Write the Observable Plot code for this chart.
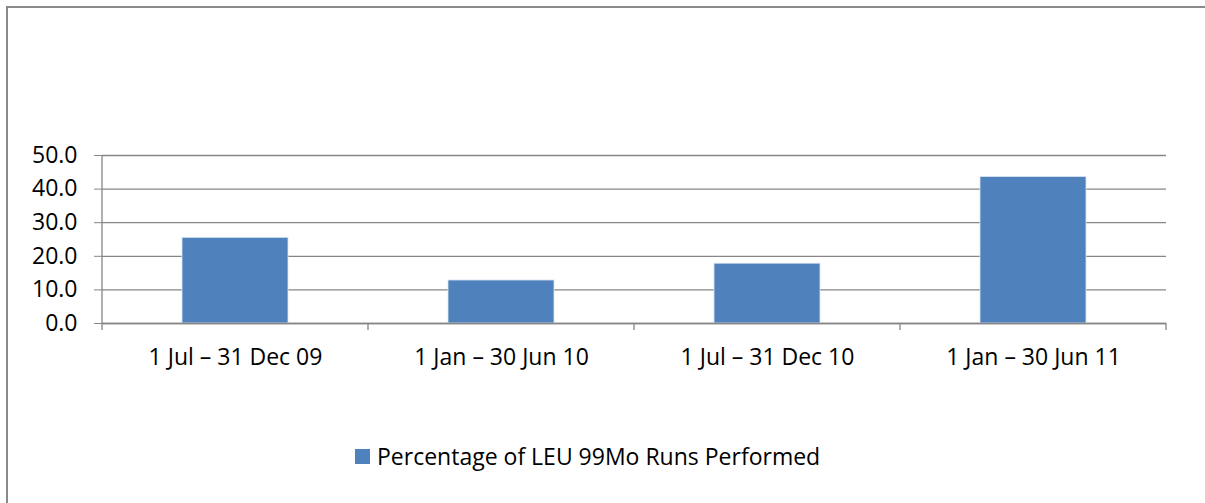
<!DOCTYPE html>
<html>
<head>
<meta charset="utf-8">
<script src="https://cdn.jsdelivr.net/npm/d3@7"></script>
<script src="https://cdn.jsdelivr.net/npm/@observablehq/plot@0.6"></script>
<style>
  html, body { margin: 0; padding: 0; background: #fff; overflow: hidden; }
  #wrap { position: relative; width: 1205px; height: 503px; overflow: hidden; font-family: "Open Sans", sans-serif; }
  #border { position: absolute; left: 6px; top: 6px; width: 1300px; height: 600px; border-top: 2px solid #8a8a8a; border-left: 2px solid #8a8a8a; box-sizing: border-box; }
  #chart { position: absolute; left: 0; top: 0; }
  #legend { position: absolute; left: 355px; top: 440px; display: flex; align-items: center; font-size: 23px; color: #000; white-space: nowrap; }
  #legend .sw { width: 15px; height: 15px; background: #4F81BD; margin-right: 7px; }
</style>
</head>
<body>
<div id="wrap">
  <div id="border"></div>
  <div id="chart"></div>
  <div id="legend"><span class="sw"></span><span id="legendText"></span></div>
</div>
<script>
const categories = ["1 Jul – 31 Dec 09", "1 Jan – 30 Jun 10", "1 Jul – 31 Dec 10", "1 Jan – 30 Jun 11"];
const values = [25.5, 12.8, 17.8, 43.6];
const yTicks = [0, 10, 20, 30, 40, 50];
const seriesName = "Percentage of LEU 99Mo Runs Performed";

const data = categories.map((c, i) => ({category: c, value: values[i]}));
const gray = "#868686";

function boundaryTicks(index, scales, values, dimensions, context) {
  const x = scales.x, y = scales.y;
  const bw = x.bandwidth();
  const step = typeof x.step === "function" ? x.step() : x(categories[1]) - x(categories[0]);
  const half = (step - bw) / 2;
  const xs = categories.map(c => x(c) - half);
  xs.push(x(categories[categories.length - 1]) + bw + half);
  const y0 = y(0), yTop = y(d3.max(yTicks));
  const g = d3.create("svg:g").attr("stroke", gray).attr("stroke-width", 1.3);
  xs.forEach((xx, i) => {
    g.append("line").attr("x1", xx).attr("x2", xx)
      .attr("y1", i === 0 ? yTop : y0).attr("y2", y0 + 7);
  });
  return g.node();
}

const chart = Plot.plot({
  width: 1205,
  height: 503,
  marginLeft: 102,
  marginRight: 39,
  marginTop: 155,
  marginBottom: 180,
  style: {fontFamily: "Open Sans, sans-serif", fontSize: "23px", color: "#000", background: "transparent"},
  x: {domain: categories, paddingInner: 0.6, paddingOuter: 0.3},
  y: {domain: [0, 50]},
  marks: [
    Plot.ruleY(yTicks, {stroke: gray, strokeWidth: 1.3}),
    Plot.barY(data, {x: "category", y: "value", fill: "#4F81BD", stroke: "#dbe5f1", strokeWidth: 0.8}),
    Plot.ruleY([0], {stroke: gray, strokeWidth: 1.3}),
    boundaryTicks,
    Plot.axisY({ticks: yTicks, tickFormat: d3.format(".1f"), tickSize: 8, tickPadding: 17, stroke: gray, strokeOpacity: 1, label: null, fontSize: 23}),
    Plot.axisX({tickSize: 0, tickPadding: 25, label: null, fontSize: 23})
  ]
});
document.getElementById("chart").appendChild(chart);
document.getElementById("legendText").textContent = seriesName;
</script>
</body>
</html>
